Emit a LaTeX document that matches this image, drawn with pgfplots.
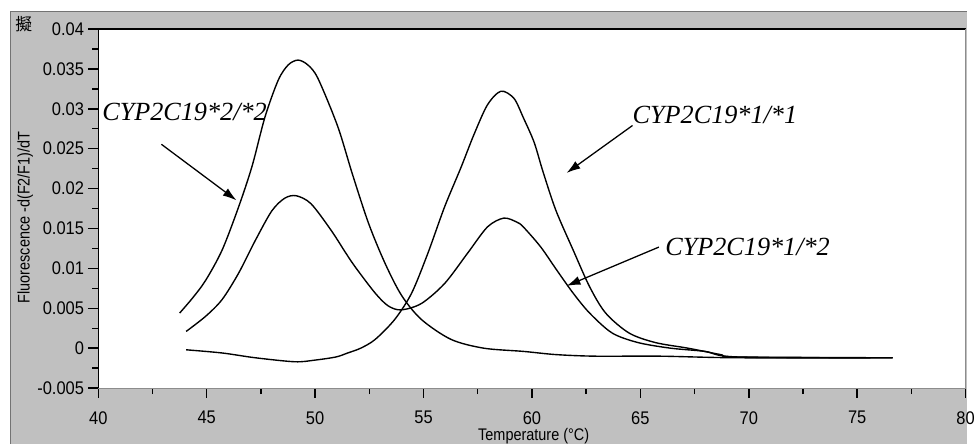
\documentclass[border=0pt]{standalone}
\usepackage{pgfplots}
\pgfplotsset{compat=1.18}
\usepackage{fontspec}
\setmainfont{Liberation Sans}
\newfontfamily\tickfont[FakeStretch=0.9]{Liberation Sans}
\newfontfamily\labfont[FakeStretch=0.86]{Liberation Sans}
\newfontfamily\timesfont{Liberation Serif}
\newfontfamily\cjk{Noto Sans CJK JP}
\usetikzlibrary{arrows.meta}
\definecolor{wingray}{RGB}{192,192,192}
\begin{document}
\begin{tikzpicture}[x=1pt,y=1pt]
\fill[white] (0,0) rectangle (978,449);
\fill[wingray] (11,0) rectangle (978,437);
\draw[black!55, line width=1pt] (11,0) -- (11,437) -- (978,437);
\node[font=\cjk\fontsize{17}{17}\selectfont, inner sep=0] at (24,425) {擬};
\begin{axis}[
  at={(99.5pt,56.3pt)}, anchor=south west,
  scale only axis, width=877.5pt, height=363.4pt,
  xmin=40, xmax=80, ymin=-0.005, ymax=0.04,
  axis background/.style={fill=white},
  axis x line*=bottom, axis y line*=left,
  x axis line style={black!45, line width=0.6pt},
  y axis line style={black, line width=1.5pt},
  xtick={40,45,50,55,60,65,70,75,80}, minor x tick num=1,
  ytick={-0.005,0,0.005,0.01,0.015,0.02,0.025,0.03,0.035,0.04}, minor y tick num=1,
  xticklabels={40,45,50,55,60,65,70,75,80},
  yticklabels={-0.005,0,0.005,0.01,0.015,0.02,0.025,0.03,0.035,0.04},
  scaled y ticks=false,
  tick align=outside, major tick length=10pt, minor tick length=6pt,
  every tick/.style={black, line width=1.5pt},
  tick label style={font=\tickfont\fontsize{18.5}{20}\selectfont},
  xticklabel style={yshift=-10pt},
  yticklabel style={xshift=-1pt},
]
% CYP2C19*2/*2
\addplot[black, line width=1.4pt, smooth] coordinates {
(43.75,0.0044) (44.35,0.0063) (44.95,0.0085) (45.71,0.0123) (46.47,0.0177)
(47.09,0.0228) (47.69,0.0290) (48.3,0.0336) (48.76,0.0355) (49.21,0.0361)
(49.66,0.0355) (50.13,0.0338) (51.04,0.0278) (51.72,0.0218) (52.47,0.0156)
(53.23,0.0106) (53.99,0.0066) (54.9,0.0036) (56.27,0.0011) (57.78,0.0)
(59.6,-0.0004) (61.1,-0.0008) (62.9,-0.0010) (65.9,-0.0010) (69.5,-0.0012)
(76.64,-0.0012)};
% CYP2C19*1/*2
\addplot[black, line width=1.4pt, smooth] coordinates {
(44.05,0.0021) (44.95,0.0040) (45.71,0.0061) (46.47,0.0094) (47.24,0.0135)
(48.0,0.0172) (48.6,0.0188) (49.13,0.0191) (49.81,0.0181) (50.73,0.0148)
(51.42,0.0119) (51.87,0.0101) (52.77,0.0069) (53.37,0.0053) (53.97,0.0048)
(54.9,0.0056) (55.97,0.0081) (57.03,0.0119) (57.95,0.0152) (58.7,0.0163)
(59.3,0.0158) (59.6,0.0152) (60.4,0.0127) (61.14,0.0098) (61.9,0.0069)
(62.66,0.0044) (63.7,0.0019) (64.9,0.0007) (66.4,0.0) (67.98,-0.0004)
(69.5,-0.0011) (76.64,-0.0012)};
% CYP2C19*1/*1
\addplot[black, line width=1.4pt, smooth] coordinates {
(44.05,-0.0002) (45.71,-0.0006) (47.24,-0.0012) (49.06,-0.0017) (49.97,-0.0015)
(50.96,-0.0011) (51.5,-0.0006) (52.1,0.0) (52.77,0.0011) (53.67,0.0036)
(54.45,0.0069) (55.2,0.0119) (55.97,0.0177) (56.72,0.0226) (57.33,0.0268)
(57.95,0.0305) (58.57,0.0322) (59.17,0.0313) (59.6,0.0289) (60.1,0.0258)
(60.5,0.0222) (61.1,0.0173) (61.9,0.0123) (62.66,0.0077) (63.4,0.0044)
(64.48,0.0019) (65.7,0.0007) (67.2,0.0) (68.7,-0.0008) (69.5,-0.0011)
(76.64,-0.0012)};
\end{axis}
\draw[black, line width=1.5pt] (99.5,419.7) -- (977,419.7);
\draw[black!45, line width=0.6pt] (977,56.3) -- (977,419.7);
\node[rotate=90, font=\labfont\fontsize{17}{18}\selectfont, inner sep=0] at (25.5,229) {Fluorescence -d(F2/F1)/dT};
\node[font=\labfont\fontsize{17}{18}\selectfont, inner sep=0] at (540,7.5) {Temperature (°C)};
\node[font=\timesfont\itshape\fontsize{26.5}{30}\selectfont, anchor=base west, inner sep=0] at (103.3,327.3) {CYP2C19*2/*2};
\node[font=\timesfont\itshape\fontsize{26.5}{30}\selectfont, anchor=base west, inner sep=0] at (640,324) {CYP2C19*1/*1};
\node[font=\timesfont\itshape\fontsize{26.5}{30}\selectfont, anchor=base west, inner sep=0] at (673,190.7) {CYP2C19*1/*2};
\draw[black, line width=1.3pt, -{Latex[length=14pt,width=9pt]}] (163.3,303) -- (239.3,246.3);
\draw[black, line width=1.3pt, -{Latex[length=14pt,width=9pt]}] (640,322) -- (573.3,274);
\draw[black, line width=1.3pt, -{Latex[length=14pt,width=9pt]}] (666.7,199) -- (573.3,159.7);
\end{tikzpicture}
\end{document}
